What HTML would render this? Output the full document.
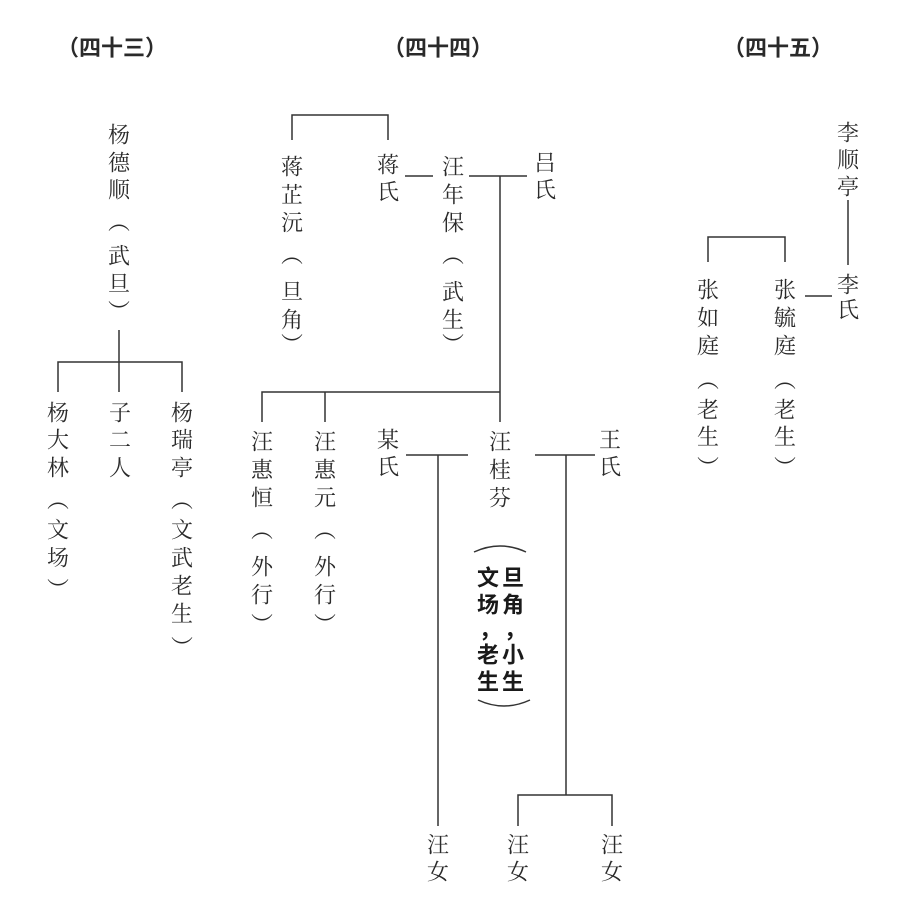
<!DOCTYPE html>
<html><head><meta charset="utf-8"><style>
html,body{margin:0;padding:0;background:#fff}
svg text{font-family:"Liberation Serif","Noto Serif CJK SC",serif;font-size:22px;fill:#2a2a2a;text-anchor:middle;dominant-baseline:central}
.b{font-family:"Liberation Sans","Noto Sans CJK SC",sans-serif;font-weight:bold;font-size:22px;fill:#1a1a1a}
.h{font-family:"Liberation Sans","Noto Sans CJK SC",sans-serif;font-weight:bold;font-size:22px}
</style></head><body>
<svg width="898" height="918" viewBox="0 0 898 918" xmlns="http://www.w3.org/2000/svg">
<g stroke="#333" stroke-width="1.5" fill="none">
<path d="M119 330V362M58 392V362H182V392M119 362V392"/>
<path d="M292 140V115H388V140"/>
<path d="M405 176H433M469 176H527M500 176V422M262 422V392H500M325 392V422"/>
<path d="M406 455H468M438 455V826"/>
<path d="M535 455H595M566 455V795M518 826V795H612V826"/>
<path d="M474 552Q500 540 526 552M478 700Q504 712 530 700"/>
<path d="M848 200V265M805 296H832M708 262V237H785V262"/>
</g>
<text class="h" x="112" y="48">（四十三）</text>
<text class="h" x="438" y="48">（四十四）</text>
<text class="h" x="778" y="48">（四十五）</text>
<g>
<text x="119" y="135">杨</text><text x="119" y="163">德</text><text x="119" y="190">顺</text>
<text x="119" y="222">︵</text><text x="119" y="256">武</text><text x="119" y="284">旦</text><text x="119" y="312">︶</text>
<text x="58" y="413">杨</text><text x="58" y="440">大</text><text x="58" y="468">林</text>
<text x="58" y="500">︵</text><text x="58" y="530">文</text><text x="58" y="558">场</text><text x="58" y="590">︶</text>
<text x="120" y="413">子</text><text x="120" y="440">二</text><text x="120" y="468">人</text>
<text x="182" y="413">杨</text><text x="182" y="440">瑞</text><text x="182" y="468">亭</text>
<text x="182" y="500">︵</text><text x="182" y="530">文</text><text x="182" y="558">武</text><text x="182" y="586">老</text><text x="182" y="614">生</text><text x="182" y="648">︶</text>
<text x="292" y="167">蒋</text><text x="292" y="195">芷</text><text x="292" y="223">沅</text>
<text x="292" y="255">︵</text><text x="292" y="292">旦</text><text x="292" y="320">角</text><text x="292" y="345">︶</text>
<text x="388" y="165">蒋</text><text x="388" y="192">氏</text>
<text x="453" y="167">汪</text><text x="453" y="195">年</text><text x="453" y="223">保</text>
<text x="453" y="255">︵</text><text x="453" y="292">武</text><text x="453" y="320">生</text><text x="453" y="345">︶</text>
<text x="545" y="163">吕</text><text x="545" y="190">氏</text>
<text x="262" y="442">汪</text><text x="262" y="470">惠</text><text x="262" y="498">恒</text>
<text x="262" y="530">︵</text><text x="262" y="567">外</text><text x="262" y="595">行</text><text x="262" y="625">︶</text>
<text x="325" y="442">汪</text><text x="325" y="470">惠</text><text x="325" y="498">元</text>
<text x="325" y="530">︵</text><text x="325" y="567">外</text><text x="325" y="595">行</text><text x="325" y="625">︶</text>
<text x="388" y="440">某</text><text x="388" y="467">氏</text>
<text x="500" y="442">汪</text><text x="500" y="470">桂</text><text x="500" y="498">芬</text>
<text class="b" x="513" y="578">旦</text><text class="b" x="513" y="605">角</text><text class="b" x="515" y="630">，</text><text class="b" x="513" y="655">小</text><text class="b" x="513" y="682">生</text>
<text class="b" x="488" y="578">文</text><text class="b" x="488" y="605">场</text><text class="b" x="490" y="630">，</text><text class="b" x="488" y="655">老</text><text class="b" x="488" y="682">生</text>
<text x="610" y="440">王</text><text x="610" y="467">氏</text>
<text x="438" y="845">汪</text><text x="438" y="872">女</text>
<text x="518" y="845">汪</text><text x="518" y="872">女</text>
<text x="612" y="845">汪</text><text x="612" y="872">女</text>
<text x="848" y="133">李</text><text x="848" y="160">顺</text><text x="848" y="187">亭</text>
<text x="848" y="285">李</text><text x="848" y="310">氏</text>
<text x="708" y="290">张</text><text x="708" y="318">如</text><text x="708" y="346">庭</text>
<text x="708" y="380">︵</text><text x="708" y="410">老</text><text x="708" y="437">生</text><text x="708" y="468">︶</text>
<text x="785" y="290">张</text><text x="785" y="318">毓</text><text x="785" y="346">庭</text>
<text x="785" y="380">︵</text><text x="785" y="410">老</text><text x="785" y="437">生</text><text x="785" y="468">︶</text>
</g>
</svg>
</body></html>
